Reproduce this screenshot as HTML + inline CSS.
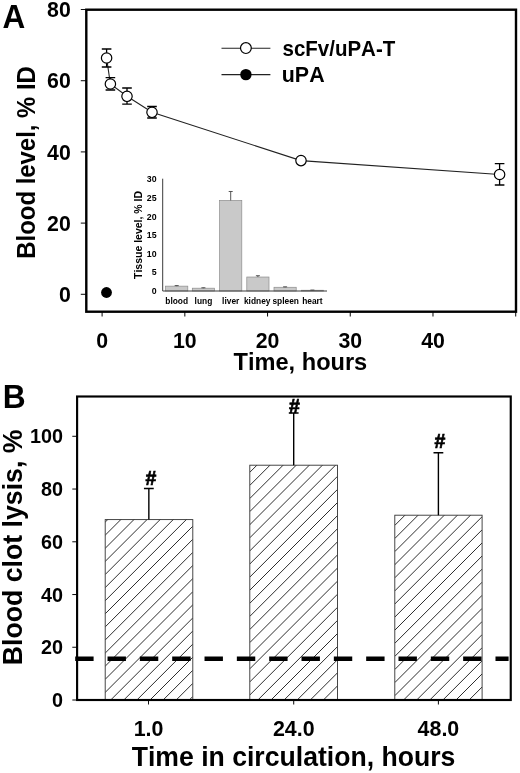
<!DOCTYPE html>
<html lang="en"><head><meta charset="utf-8"><title>Figure</title>
<style>html,body{margin:0;padding:0;background:#fff}svg{display:block;will-change:transform}text{font-family:'Liberation Sans', Arial, Helvetica, sans-serif;font-weight:bold;fill:#000;font-kerning:none;font-variant-ligatures:none}</style>
</head><body>
<svg width="520" height="773" viewBox="0 0 520 773">
<rect x="0" y="0" width="520" height="773" fill="#fff"/>
<g id="panelA">
<text transform="translate(2.40,28.10) scale(1,1.040)" font-size="31.5">A</text>
<line x1="80.8" y1="294.30" x2="86.30" y2="294.30" stroke="#111" stroke-width="1.05"/>
<text transform="translate(70.80,302.00) scale(1,1.040)" font-size="21.3" text-anchor="end">0</text>
<line x1="80.8" y1="223.10" x2="86.30" y2="223.10" stroke="#111" stroke-width="1.05"/>
<text transform="translate(70.80,230.80) scale(1,1.040)" font-size="21.3" text-anchor="end">20</text>
<line x1="80.8" y1="151.90" x2="86.30" y2="151.90" stroke="#111" stroke-width="1.05"/>
<text transform="translate(70.80,159.60) scale(1,1.040)" font-size="21.3" text-anchor="end">40</text>
<line x1="80.8" y1="80.70" x2="86.30" y2="80.70" stroke="#111" stroke-width="1.05"/>
<text transform="translate(70.80,88.40) scale(1,1.040)" font-size="21.3" text-anchor="end">60</text>
<line x1="80.8" y1="9.50" x2="86.30" y2="9.50" stroke="#111" stroke-width="1.05"/>
<text transform="translate(70.80,17.20) scale(1,1.040)" font-size="21.3" text-anchor="end">80</text>
<line x1="102.10" y1="311.70" x2="102.10" y2="316.6" stroke="#111" stroke-width="1.05"/>
<text transform="translate(102.10,347.90) scale(1,1.040)" font-size="21.3" text-anchor="middle">0</text>
<line x1="184.82" y1="311.70" x2="184.82" y2="316.6" stroke="#111" stroke-width="1.05"/>
<text transform="translate(184.82,347.90) scale(1,1.040)" font-size="21.3" text-anchor="middle">10</text>
<line x1="267.54" y1="311.70" x2="267.54" y2="316.6" stroke="#111" stroke-width="1.05"/>
<text transform="translate(267.54,347.90) scale(1,1.040)" font-size="21.3" text-anchor="middle">20</text>
<line x1="350.26" y1="311.70" x2="350.26" y2="316.6" stroke="#111" stroke-width="1.05"/>
<text transform="translate(350.26,347.90) scale(1,1.040)" font-size="21.3" text-anchor="middle">30</text>
<line x1="432.98" y1="311.70" x2="432.98" y2="316.6" stroke="#111" stroke-width="1.05"/>
<text transform="translate(432.98,347.90) scale(1,1.040)" font-size="21.3" text-anchor="middle">40</text>
<line x1="515.70" y1="311.70" x2="515.70" y2="316.6" stroke="#111" stroke-width="1.05"/>
<text transform="translate(34.90,162.40) rotate(-90) scale(1,1.040)" font-size="23.9" text-anchor="middle">Blood level, % ID</text>
<text transform="translate(300.40,370.10) scale(1,1.040)" font-size="23.6" text-anchor="middle">Time, hours</text>
<polyline fill="none" stroke="#222" stroke-width="1.1" points="106.6,58.0 110.4,84.0 127.0,96.3 152.0,112.3 301.0,160.6 499.6,174.5"/>
<path d="M106.6 49.0V67.0M101.8 49.0H111.4M101.8 67.0H111.4" stroke="#000" stroke-width="1.3" fill="none"/>
<circle cx="106.6" cy="58.0" r="5.2" fill="#fff" stroke="#000" stroke-width="1.2"/>
<path d="M110.4 77.7V90.0M105.6 77.7H115.2M105.6 90.0H115.2" stroke="#000" stroke-width="1.3" fill="none"/>
<circle cx="110.4" cy="84.0" r="5.2" fill="#fff" stroke="#000" stroke-width="1.2"/>
<path d="M127.0 88.0V104.2M122.2 88.0H131.8M122.2 104.2H131.8" stroke="#000" stroke-width="1.3" fill="none"/>
<circle cx="127.0" cy="96.3" r="5.2" fill="#fff" stroke="#000" stroke-width="1.2"/>
<path d="M152.0 106.5V118.0M147.2 106.5H156.8M147.2 118.0H156.8" stroke="#000" stroke-width="1.3" fill="none"/>
<circle cx="152.0" cy="112.3" r="5.2" fill="#fff" stroke="#000" stroke-width="1.2"/>
<circle cx="301.0" cy="160.6" r="5.2" fill="#fff" stroke="#000" stroke-width="1.2"/>
<path d="M499.6 163.7V185.0M494.8 163.7H504.4M494.8 185.0H504.4" stroke="#000" stroke-width="1.3" fill="none"/>
<circle cx="499.6" cy="174.5" r="5.2" fill="#fff" stroke="#000" stroke-width="1.2"/>
<circle cx="106.5" cy="292.5" r="5.4" fill="#000"/>
<line x1="221.5" y1="48.2" x2="270.4" y2="48.2" stroke="#222" stroke-width="1.1"/>
<circle cx="245.9" cy="48.1" r="5.4" fill="#fff" stroke="#000" stroke-width="1.2"/>
<line x1="221.5" y1="74.6" x2="270.4" y2="74.6" stroke="#222" stroke-width="1.1"/>
<circle cx="245.9" cy="74.6" r="5.7" fill="#000"/>
<text transform="translate(282.50,56.00) scale(1,1.040)" font-size="20.5">scFv/uPA-T</text>
<text transform="translate(281.80,82.30) scale(1,1.040)" font-size="21.4">uPA</text>
<g id="inset">
<rect x="165.6" y="286.15" width="22.2" height="4.85" fill="#c9c9c9" stroke="#8c8c8c" stroke-width="0.7"/>
<path d="M176.7 286.15V285.60M174.7 285.60H178.7" stroke="#444" stroke-width="0.9" fill="none"/>
<text transform="translate(176.70,304.00) scale(1,1.040)" font-size="8.4" text-anchor="middle">blood</text>
<rect x="192.3" y="288.20" width="22.2" height="2.80" fill="#c9c9c9" stroke="#8c8c8c" stroke-width="0.7"/>
<path d="M203.4 288.20V287.76M201.4 287.76H205.4" stroke="#444" stroke-width="0.9" fill="none"/>
<text transform="translate(203.40,304.00) scale(1,1.040)" font-size="8.4" text-anchor="middle">lung</text>
<rect x="219.6" y="200.43" width="22.2" height="90.57" fill="#c9c9c9" stroke="#8c8c8c" stroke-width="0.7"/>
<path d="M230.7 200.43V191.49M228.7 191.49H232.7" stroke="#444" stroke-width="0.9" fill="none"/>
<text transform="translate(230.70,304.00) scale(1,1.040)" font-size="8.4" text-anchor="middle">liver</text>
<rect x="246.8" y="277.02" width="22.2" height="13.98" fill="#c9c9c9" stroke="#8c8c8c" stroke-width="0.7"/>
<path d="M257.9 277.02V275.72M255.9 275.72H259.9" stroke="#444" stroke-width="0.9" fill="none"/>
<text transform="translate(257.20,304.00) scale(1,1.040)" font-size="8.4" text-anchor="middle">kidney</text>
<rect x="274.0" y="287.27" width="22.2" height="3.73" fill="#c9c9c9" stroke="#8c8c8c" stroke-width="0.7"/>
<path d="M285.1 287.27V286.83M283.1 286.83H287.1" stroke="#444" stroke-width="0.9" fill="none"/>
<text transform="translate(285.70,304.00) scale(1,1.040)" font-size="8.4" text-anchor="middle">spleen</text>
<rect x="301.3" y="290.25" width="22.2" height="0.75" fill="#c9c9c9" stroke="#8c8c8c" stroke-width="0.7"/>
<path d="M312.4 290.25V290.07M310.4 290.07H314.4" stroke="#444" stroke-width="0.9" fill="none"/>
<text transform="translate(312.40,304.00) scale(1,1.040)" font-size="8.4" text-anchor="middle">heart</text>
<path d="M162.7 178.7V291.0H327" stroke="#3a3a3a" stroke-width="1" fill="none"/>
<text transform="translate(156.60,294.10) scale(1,1.040)" font-size="8.8" text-anchor="end">0</text>
<text transform="translate(156.60,275.47) scale(1,1.040)" font-size="8.8" text-anchor="end">5</text>
<text transform="translate(156.60,256.83) scale(1,1.040)" font-size="8.8" text-anchor="end">10</text>
<text transform="translate(156.60,238.19) scale(1,1.040)" font-size="8.8" text-anchor="end">15</text>
<text transform="translate(156.60,219.56) scale(1,1.040)" font-size="8.8" text-anchor="end">20</text>
<text transform="translate(156.60,200.92) scale(1,1.040)" font-size="8.8" text-anchor="end">25</text>
<text transform="translate(156.60,182.29) scale(1,1.040)" font-size="8.8" text-anchor="end">30</text>
<text transform="translate(142.40,235.00) rotate(-90) scale(1,1.040)" font-size="10.5" text-anchor="middle">Tissue level, % ID</text>
</g>
<rect x="86.30" y="9.70" width="429.70" height="302.00" fill="none" stroke="#000" stroke-width="2.4"/>
</g>
<g id="panelB">
<text transform="translate(2.70,407.80) scale(1,1.040)" font-size="31.7">B</text>
<defs>
<clipPath id="h1"><rect x="105.2" y="519.6" width="87.6" height="180.4"/></clipPath>
<clipPath id="h2"><rect x="249.8" y="465.2" width="87.7" height="234.8"/></clipPath>
<clipPath id="h3"><rect x="394.8" y="515.2" width="87.3" height="184.8"/></clipPath>
</defs>
<rect x="105.2" y="519.6" width="87.6" height="180.4" fill="#fff"/>
<path clip-path="url(#h1)" d="M105.2 509.0L192.8 421.4M105.2 522.1L192.8 434.5M105.2 535.2L192.8 447.6M105.2 548.3L192.8 460.7M105.2 561.4L192.8 473.8M105.2 574.5L192.8 486.9M105.2 587.6L192.8 500.0M105.2 600.7L192.8 513.1M105.2 613.8L192.8 526.2M105.2 626.9L192.8 539.3M105.2 640.0L192.8 552.4M105.2 653.1L192.8 565.5M105.2 666.2L192.8 578.6M105.2 679.3L192.8 591.7M105.2 692.4L192.8 604.8M105.2 705.5L192.8 617.9M105.2 718.6L192.8 631.0M105.2 731.7L192.8 644.1M105.2 744.8L192.8 657.2M105.2 757.9L192.8 670.3M105.2 771.0L192.8 683.4M105.2 784.1L192.8 696.5M105.2 797.2L192.8 709.6" stroke="#222" stroke-width="0.95" fill="none"/>
<rect x="105.2" y="519.6" width="87.6" height="180.4" fill="none" stroke="#333" stroke-width="0.9"/>
<rect x="249.8" y="465.2" width="87.7" height="234.8" fill="#fff"/>
<path clip-path="url(#h2)" d="M249.8 459.2L337.5 371.5M249.8 472.3L337.5 384.6M249.8 485.4L337.5 397.7M249.8 498.5L337.5 410.8M249.8 511.6L337.5 423.9M249.8 524.7L337.5 437.0M249.8 537.8L337.5 450.1M249.8 550.9L337.5 463.2M249.8 564.0L337.5 476.3M249.8 577.1L337.5 489.4M249.8 590.2L337.5 502.5M249.8 603.3L337.5 515.6M249.8 616.4L337.5 528.7M249.8 629.5L337.5 541.8M249.8 642.6L337.5 554.9M249.8 655.7L337.5 568.0M249.8 668.8L337.5 581.1M249.8 681.9L337.5 594.2M249.8 695.0L337.5 607.3M249.8 708.1L337.5 620.4M249.8 721.2L337.5 633.5M249.8 734.3L337.5 646.6M249.8 747.4L337.5 659.7M249.8 760.5L337.5 672.8M249.8 773.6L337.5 685.9M249.8 786.7L337.5 699.0M249.8 799.8L337.5 712.1" stroke="#222" stroke-width="0.95" fill="none"/>
<rect x="249.8" y="465.2" width="87.7" height="234.8" fill="none" stroke="#333" stroke-width="0.9"/>
<rect x="394.8" y="515.2" width="87.3" height="184.8" fill="#fff"/>
<path clip-path="url(#h3)" d="M394.8 512.3L482.1 425.0M394.8 525.4L482.1 438.1M394.8 538.5L482.1 451.2M394.8 551.6L482.1 464.3M394.8 564.7L482.1 477.4M394.8 577.8L482.1 490.5M394.8 590.9L482.1 503.6M394.8 604.0L482.1 516.7M394.8 617.1L482.1 529.8M394.8 630.2L482.1 542.9M394.8 643.3L482.1 556.0M394.8 656.4L482.1 569.1M394.8 669.5L482.1 582.2M394.8 682.6L482.1 595.3M394.8 695.7L482.1 608.4M394.8 708.8L482.1 621.5M394.8 721.9L482.1 634.6M394.8 735.0L482.1 647.7M394.8 748.1L482.1 660.8M394.8 761.2L482.1 673.9M394.8 774.3L482.1 687.0M394.8 787.4L482.1 700.1" stroke="#222" stroke-width="0.95" fill="none"/>
<rect x="394.8" y="515.2" width="87.3" height="184.8" fill="none" stroke="#333" stroke-width="0.9"/>
<path d="M148.85 519.6V488.5M143.95 488.5H153.75" stroke="#000" stroke-width="1.4" fill="none"/>
<text transform="translate(151.00,485.00) scale(1,1.040)" font-size="19.5" text-anchor="middle" stroke="#000" stroke-width="0.7">#</text>
<path d="M293.70 465.2V413.0M288.80 413.0H298.60" stroke="#000" stroke-width="1.4" fill="none"/>
<text transform="translate(294.30,412.60) scale(1,1.040)" font-size="19.5" text-anchor="middle" stroke="#000" stroke-width="0.7">#</text>
<path d="M438.40 515.2V452.8M433.50 452.8H443.30" stroke="#000" stroke-width="1.4" fill="none"/>
<text transform="translate(440.00,448.40) scale(1,1.040)" font-size="19.5" text-anchor="middle" stroke="#000" stroke-width="0.7">#</text>
<line x1="75.2" y1="658.7" x2="508.6" y2="658.7" stroke="#000" stroke-width="4.5" stroke-dasharray="18.4 13.93"/>
<line x1="72.3" y1="700.00" x2="77.10" y2="700.00" stroke="#111" stroke-width="1.05"/>
<text transform="translate(63.00,707.00) scale(1,1.040)" font-size="19.8" text-anchor="end">0</text>
<line x1="72.3" y1="647.26" x2="77.10" y2="647.26" stroke="#111" stroke-width="1.05"/>
<text transform="translate(63.00,654.26) scale(1,1.040)" font-size="19.8" text-anchor="end">20</text>
<line x1="72.3" y1="594.52" x2="77.10" y2="594.52" stroke="#111" stroke-width="1.05"/>
<text transform="translate(63.00,601.52) scale(1,1.040)" font-size="19.8" text-anchor="end">40</text>
<line x1="72.3" y1="541.78" x2="77.10" y2="541.78" stroke="#111" stroke-width="1.05"/>
<text transform="translate(63.00,548.78) scale(1,1.040)" font-size="19.8" text-anchor="end">60</text>
<line x1="72.3" y1="489.04" x2="77.10" y2="489.04" stroke="#111" stroke-width="1.05"/>
<text transform="translate(63.00,496.04) scale(1,1.040)" font-size="19.8" text-anchor="end">80</text>
<line x1="72.3" y1="436.30" x2="77.10" y2="436.30" stroke="#111" stroke-width="1.05"/>
<text transform="translate(63.00,443.30) scale(1,1.040)" font-size="19.8" text-anchor="end">100</text>
<line x1="148.5" y1="700" x2="148.5" y2="704.5" stroke="#111" stroke-width="1.05"/>
<text transform="translate(148.50,736.00) scale(1,1.040)" font-size="21.4" text-anchor="middle">1.0</text>
<line x1="293.7" y1="700" x2="293.7" y2="704.5" stroke="#111" stroke-width="1.05"/>
<text transform="translate(293.70,736.00) scale(1,1.040)" font-size="21.4" text-anchor="middle">24.0</text>
<line x1="438.4" y1="700" x2="438.4" y2="704.5" stroke="#111" stroke-width="1.05"/>
<text transform="translate(438.40,736.00) scale(1,1.040)" font-size="21.4" text-anchor="middle">48.0</text>
<text transform="translate(22.30,547.40) rotate(-90) scale(1,1.040)" font-size="26.7" text-anchor="middle">Blood clot lysis, %</text>
<text transform="translate(293.50,765.80) scale(1,1.040)" font-size="26.6" text-anchor="middle">Time in circulation, hours</text>
<rect x="77.10" y="396.50" width="433.65" height="303.50" fill="none" stroke="#000" stroke-width="2.15"/>
</g>
</svg></body></html>
